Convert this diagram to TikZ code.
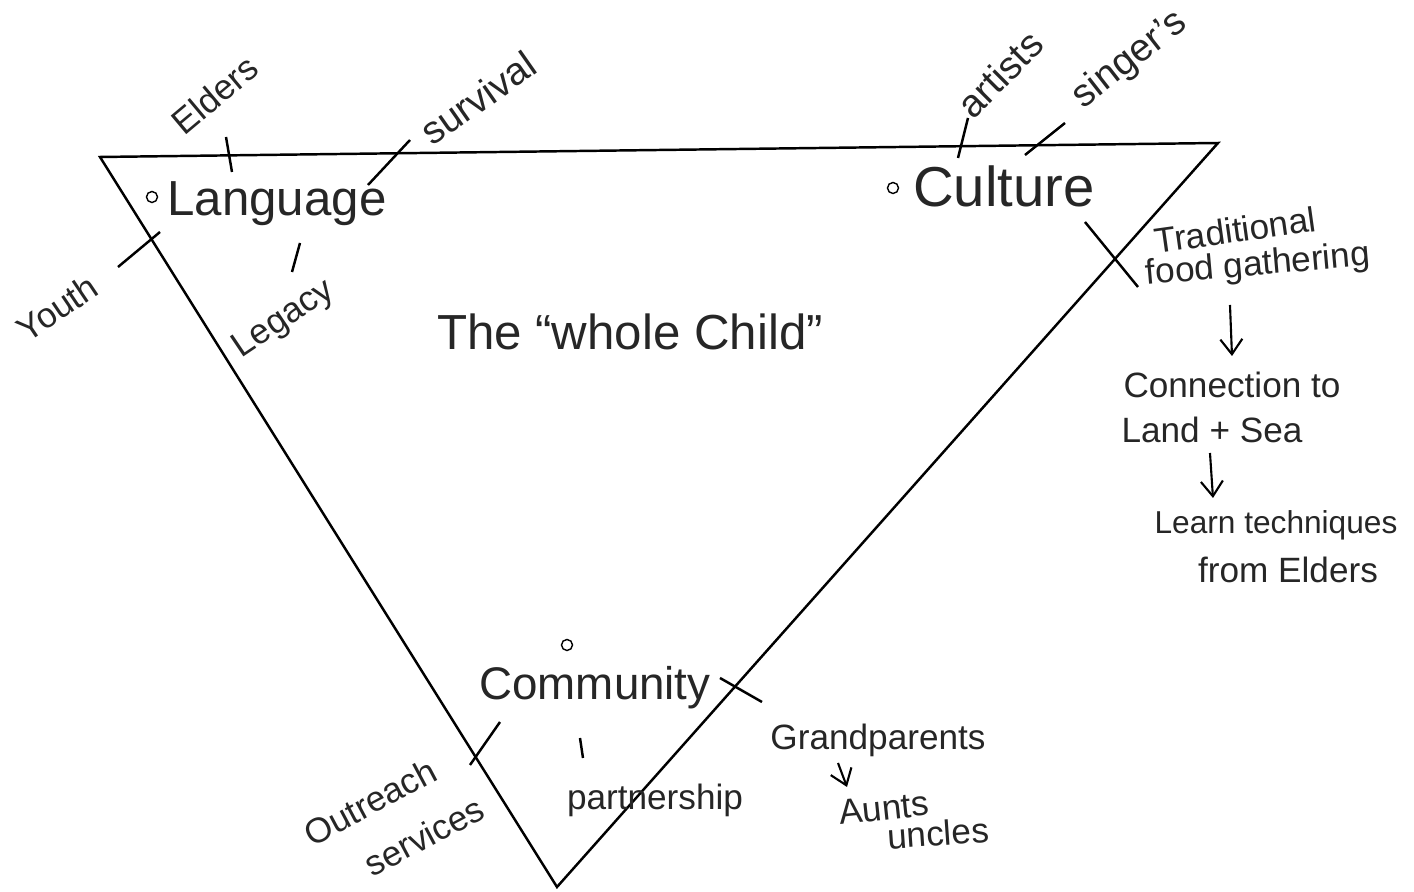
\documentclass[tikz,border=0pt]{standalone}
\usepackage{fontspec}
\setmainfont{Liberation Sans}
\usetikzlibrary {arrows.meta,
                 positioning}
\tikzset{
        base/.style={inner sep=0pt, text=black!85},
        big/.style={base, font=\fontsize{14}{16}\selectfont},
        small/.style={base, font=\fontsize{10}{12}\selectfont},
        dot/.style={circle, draw, line width=0.4pt, inner sep=0pt, minimum size=1.1mm},
        side/.style={line width=0.7pt, line join=miter},
        tick/.style={line width=0.7pt},
        myarrow/.style={-{Straight Barb[length=1.5mm, width=2.2mm]}, line width=0.6pt},
 }
\begin{document}
\begin{tikzpicture}[x=0.01cm, y=-0.01cm]
    \useasboundingbox (0,0) rectangle (1414,892);

    % triangle
    \coordinate (tl) at (100,157);
    \coordinate (tr) at (1218,143);
    \coordinate (bt) at (557,887);
    \draw[side] (tl) -- (tr) -- (bt) -- cycle;

    % corner words
    \node[dot] (langdot) at (152,197) {};
    \node[big] (lang) at (277,204) {Language};
    \node[dot] (cultdot) at (893,188) {};
    \node[big, font=\fontsize{16}{18}\selectfont] (cult) at (1004,186) {Culture};
    \node[dot] (commdot) at (567,645) {};
    \node[big, font=\fontsize{13}{15}\selectfont] (comm) at (595,688) {Community};
    \node[big] (whole) at (630,332) {The ``whole Child''};

    % Language
    \node[small, rotate=40] (elders) at (215,95) {Elders};
    \coordinate (eldA) at (226,137);
    \coordinate (eldB) at (232,172);
    \draw[tick] (eldA) -- (eldB);
    \node[small, font=\fontsize{11}{13}\selectfont, rotate=35] (surv) at (478,98) {survival};
    \coordinate (surA) at (410,140);
    \coordinate (surB) at (368,185);
    \draw[tick] (surA) -- (surB);
    \node[small, rotate=34] (youth) at (57,308) {Youth};
    \coordinate (youA) at (118,267);
    \coordinate (youB) at (160,232);
    \draw[tick] (youA) -- (youB);
    \node[small, rotate=34] (legacy) at (284,320) {Legacy};
    \coordinate (legA) at (300,243);
    \coordinate (legB) at (292,272);
    \draw[tick] (legA) -- (legB);

    % Culture
    \node[small, font=\fontsize{11}{13}\selectfont, rotate=45] (artists) at (1000,74) {artists};
    \coordinate (artA) at (968,118);
    \coordinate (artB) at (958,158);
    \draw[tick] (artA) -- (artB);
    \node[small, font=\fontsize{11}{13}\selectfont, rotate=38] (singers) at (1130,60) {singer's};
    \coordinate (sinA) at (1065,123);
    \coordinate (sinB) at (1025,155);
    \draw[tick] (sinA) -- (sinB);
    \node[small, rotate=8] (trad) at (1235,230) {Traditional};
    \node[small, rotate=5] (food) at (1258,266) {food gathering};
    \coordinate (traA) at (1085,222);
    \coordinate (traB) at (1138,287);
    \draw[tick] (traA) -- (traB);
    \node[small] (conn) at (1232,385) {Connection to};
    \node[small] (land) at (1212,430) {Land + Sea};
    \node[small, font=\fontsize{9}{11}\selectfont] (learn) at (1276,525) {Learn techniques};
    \node[small] (from) at (1288,570) {from Elders};
    \coordinate (arA) at (1230,305);
    \coordinate (arB) at (1232,356);
    \draw[myarrow] (arA) -- (arB);
    \coordinate (arC) at (1210,453);
    \coordinate (arD) at (1213,498);
    \draw[myarrow] (arC) -- (arD);

    % Community
    \coordinate (comA) at (720,678);
    \coordinate (comB) at (762,702);
    \draw[tick] (comA) -- (comB);
    \node[small] (grand) at (878,740) {Grandparents};
    \node[small, rotate=6] (aunts) at (884,808) {Aunts};
    \node[small, rotate=4] (uncles) at (938,833) {uncles};
    \coordinate (arE) at (838,763);
    \coordinate (arF) at (847,787);
    \draw[myarrow] (arE) -- (arF);
    \coordinate (parA) at (580,738);
    \coordinate (parB) at (583,758);
    \draw[tick] (parA) -- (parB);
    \node[small] (partner) at (655,800) {partnership};
    \coordinate (outA) at (500,722);
    \coordinate (outB) at (470,765);
    \draw[tick] (outA) -- (outB);
    \node[small, rotate=28] (outreach) at (370,802) {Outreach};
    \node[small, rotate=28] (services) at (424,836) {services};

\end{tikzpicture}
\end{document}
